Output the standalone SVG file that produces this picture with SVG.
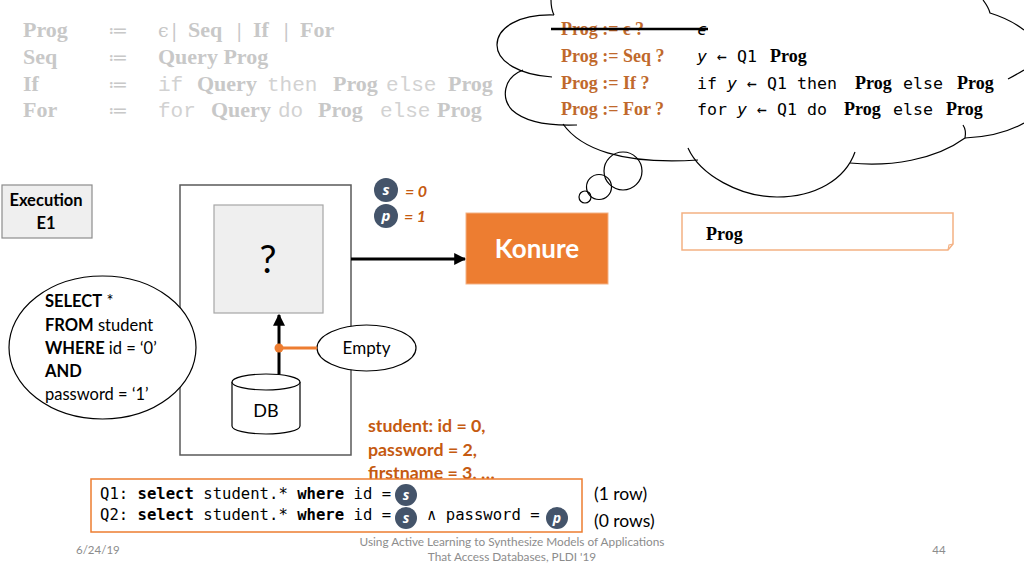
<svg xmlns="http://www.w3.org/2000/svg" width="1024" height="576" viewBox="0 0 1024 576">
<style>
.gram{font-family:"Liberation Serif",serif;font-weight:bold;font-size:22px;fill:#c8c8c8}
.gmono{font-family:"Liberation Mono",monospace;font-size:21px;fill:#d2d2d2}
.gop{font-family:"DejaVu Serif","Liberation Serif",serif;font-size:19px;fill:#c8c8c8}
.ctx{font-family:"Liberation Serif",serif;font-weight:bold;font-size:18px;fill:#c0692c}
.cmono{font-family:"DejaVu Sans Mono",monospace;font-size:16.6px;fill:#000}
.cbold{font-family:"Liberation Serif",serif;font-weight:bold;font-size:18px;fill:#000}
.sans{font-family:Lato,"Open Sans",sans-serif;fill:#000}
.qmono{font-family:"DejaVu Sans Mono",monospace;font-size:15.6px;fill:#000}
.badge{fill:#44546a}
.btx{font-family:"Open Sans",sans-serif;font-weight:bold;font-style:italic;fill:#fff;text-anchor:middle}
.org{font-family:Lato,"Open Sans",sans-serif;font-weight:bold;fill:#c55a11}
.cloud{fill:none;stroke:#000;stroke-width:1.2}
.foot{font-family:Lato,"Open Sans",sans-serif;fill:#8c8c8c}
</style>
<defs>
<marker id="ah" viewBox="0 0 10 10" refX="9" refY="5" markerWidth="4" markerHeight="4" orient="auto" markerUnits="strokeWidth">
<path d="M0,0 L10,5 L0,10 z" fill="#000"/>
</marker>
</defs>
<rect width="1024" height="576" fill="#fff"/>

<g id="grammar">
<text class="gram" x="23" y="37">Prog</text>
<text class="gop" x="108" y="37">≔</text>
<text class="gop" x="158" y="37">ϵ</text>
<text class="gop" x="171" y="37">|</text>
<text class="gram" x="188" y="37">Seq</text>
<text class="gop" x="236" y="37">|</text>
<text class="gram" x="253" y="37">If</text>
<text class="gop" x="283" y="37">|</text>
<text class="gram" x="300" y="37">For</text>

<text class="gram" x="23" y="64">Seq</text>
<text class="gop" x="108" y="64">≔</text>
<text class="gram" x="158" y="64">Query Prog</text>

<text class="gram" x="23" y="91">If</text>
<text class="gop" x="108" y="91">≔</text>
<text class="gmono" x="158" y="91">if</text>
<text class="gram" x="197" y="91">Query</text>
<text class="gmono" x="267" y="91">then</text>
<text class="gram" x="333" y="91">Prog</text>
<text class="gmono" x="386" y="91">else</text>
<text class="gram" x="448" y="91">Prog</text>

<text class="gram" x="23" y="117">For</text>
<text class="gop" x="108" y="117">≔</text>
<text class="gmono" x="158" y="117">for</text>
<text class="gram" x="211" y="117">Query</text>
<text class="gmono" x="278" y="117">do</text>
<text class="gram" x="318" y="117">Prog</text>
<text class="gmono" x="380" y="117">else</text>
<text class="gram" x="437" y="117">Prog</text>
</g>

<g id="cloud">
<path d="M551,0 L983,0 C986,5 989,9 990,13 C1005,16 1018,22 1024,30 L1024,123 C1005,133 985,137 965,138 C945,160 900,167 853,158 C840,185 810,197 777,197 C740,197 705,180 692,160 C660,164 600,160 565,126 C540,125 520,120 512,110 C500,100 505,80 523,70 C505,63 497,55 497,45 C497,25 525,15 554,15 Z" fill="#fff"/>
<path class="cloud" d="M551,0 C551,6 552,11 554,15"/>
<path class="cloud" d="M554,15 C520,14 497,27 497,45 C497,62 520,75 552,77"/>
<path class="cloud" d="M523,70 C503,78 501,98 512,110 C525,122 550,126 577,125"/>
<path class="cloud" d="M563,124 C580,148 620,165 698,160"/>
<path class="cloud" d="M688,148 C700,175 740,197 777,197 C815,197 845,180 855,152"/>
<path class="cloud" d="M850,163 C890,167 935,160 965,138 C966,133 965,128 963,125"/>
<path class="cloud" d="M965,138 C990,137 1010,131 1024,123"/>
<path class="cloud" d="M1008,79 C1014,76 1019,73 1024,70"/>
<path class="cloud" d="M983,0 C986,4 989,9 990,13 C1003,17 1015,23 1024,30"/>
<circle class="cloud" cx="623" cy="171" r="19"/>
<circle class="cloud" cx="599" cy="187" r="12.5"/>
<circle class="cloud" cx="585" cy="197" r="6"/>

<text class="ctx" x="561" y="35">Prog := ϵ ?</text>
<text class="ctx" x="561" y="62">Prog := Seq ?</text>
<text class="ctx" x="561" y="89">Prog := If ?</text>
<text class="ctx" x="561" y="115">Prog := For ?</text>
<line x1="551" y1="29" x2="708" y2="29" stroke="#000" stroke-width="2.5"/>
<text class="cmono" x="697" y="35" font-style="italic">ϵ</text>
<text class="cmono" x="697" y="62"><tspan font-style="italic">y</tspan> ← Q1</text>
<text class="cbold" x="770" y="62">Prog</text>
<text class="cmono" x="697" y="89">if <tspan font-style="italic">y</tspan> ← Q1 then</text>
<text class="cbold" x="855" y="89">Prog</text>
<text class="cmono" x="903" y="89">else</text>
<text class="cbold" x="957" y="89">Prog</text>
<text class="cmono" x="697" y="115">for <tspan font-style="italic">y</tspan> ← Q1 do</text>
<text class="cbold" x="844" y="115">Prog</text>
<text class="cmono" x="893" y="115">else</text>
<text class="cbold" x="946" y="115">Prog</text>
</g>

<g id="execution">
<rect x="2" y="185" width="90" height="53" fill="#efefef" stroke="#8c8c8c" stroke-width="1.2"/>
<text class="sans" x="46" y="206" font-size="16.5" font-weight="bold" text-anchor="middle">Execution</text>
<text class="sans" x="46" y="229" font-size="16.5" font-weight="bold" text-anchor="middle">E1</text>
</g>

<g id="app">
<rect x="180" y="185" width="171" height="270" fill="#fff" stroke="#595959" stroke-width="1.5"/>
</g>
<g id="unknown">
<rect x="214" y="205" width="109" height="108" fill="#efefef" stroke="#a6a6a6" stroke-width="1.2"/>
<text class="sans" x="268" y="273" font-size="38" text-anchor="middle">?</text>
</g>

<g id="db">
<path d="M232,382 L232,426 A34,8 0 0 0 300,426 L300,382" fill="#fff" stroke="#000" stroke-width="1.2"/>
<ellipse cx="266" cy="382" rx="34" ry="8" fill="#fff" stroke="#000" stroke-width="1.2"/>
<text class="sans" x="266" y="417" font-size="18" text-anchor="middle">DB</text>
</g>

<g id="sql">
<ellipse cx="102.5" cy="347.5" rx="93.5" ry="71.5" fill="#fff" stroke="#000" stroke-width="1.2"/>
<text class="sans" font-size="16.5" x="45" y="307"><tspan font-weight="bold">SELECT</tspan> *</text>
<text class="sans" font-size="16.5" x="45" y="331"><tspan font-weight="bold">FROM</tspan> student</text>
<text class="sans" font-size="16.5" x="45" y="354"><tspan font-weight="bold">WHERE</tspan> id = ‘0’</text>
<text class="sans" font-size="16.5" x="45" y="377" font-weight="bold">AND</text>
<text class="sans" font-size="16.5" x="45" y="400">password = ‘1’</text>
</g>

<g id="empty">
<ellipse cx="366.5" cy="348" rx="49.5" ry="23" fill="#fff" stroke="#000" stroke-width="1.2"/>
<text class="sans" x="366.5" y="354" font-size="17" text-anchor="middle">Empty</text>
</g>

<g id="konure">
<rect x="466" y="213" width="142" height="71" fill="#ed7d31" stroke="#f4b183" stroke-width="1"/>
<text class="sans" x="537" y="258" font-size="26" font-weight="bold" text-anchor="middle" style="fill:#fff">Konure</text>
</g>

<g id="params">
<circle class="badge" cx="386" cy="190" r="12"/>
<text class="btx" x="386" y="195" font-size="15">s</text>
<text class="org" x="405" y="197" font-size="16" font-style="italic">= 0</text>
<circle class="badge" cx="386" cy="216" r="12"/>
<text class="btx" x="386" y="221" font-size="15">p</text>
<text class="org" x="404" y="222" font-size="16" font-style="italic">= 1</text>
</g>

<g id="progbox">
<path d="M682,213 L953,213 L953,244 L948,250 L682,250 Z" fill="#fff" stroke="#f4b183" stroke-width="1.5"/>
<path d="M948,250 L949,245 L953,244" fill="none" stroke="#f4b183" stroke-width="1.2"/>
<text class="cbold" x="706" y="240">Prog</text>
</g>

<g id="rows">
<text class="org" x="368" y="432" font-size="17.8">student: id = 0,</text>
<text class="org" x="368" y="456" font-size="17.8">password = 2,</text>
<text class="org" x="368" y="479" font-size="17.8">firstname = 3, …</text>
</g>

<g id="queries">
<rect x="91" y="479" width="491" height="53" fill="#fff" stroke="#ed7d31" stroke-width="1.5"/>
<text class="qmono" x="100" y="499">Q1: <tspan font-weight="bold">select</tspan> student.* <tspan font-weight="bold">where</tspan> id =</text>
<text class="qmono" x="100" y="520">Q2: <tspan font-weight="bold">select</tspan> student.* <tspan font-weight="bold">where</tspan> id =</text>
<text class="qmono" x="427" y="520">∧ password =</text>
<circle class="badge" cx="406" cy="495" r="11"/>
<text class="btx" x="406" y="500" font-size="14">s</text>
<circle class="badge" cx="406" cy="518" r="11"/>
<text class="btx" x="406" y="523" font-size="14">s</text>
<circle class="badge" cx="557" cy="518" r="11"/>
<text class="btx" x="557" y="523" font-size="14">p</text>
<text class="sans" x="594" y="500" font-size="17.5">(1 row)</text>
<text class="sans" x="594" y="527" font-size="17.5">(0 rows)</text>
</g>

<g id="connectors">
<line x1="351" y1="259" x2="465" y2="259" stroke="#000" stroke-width="3" marker-end="url(#ah)"/>
<line x1="279" y1="374" x2="279" y2="315" stroke="#000" stroke-width="3" marker-end="url(#ah)"/>
<line x1="279" y1="348" x2="317" y2="348" stroke="#ed7d31" stroke-width="3"/>
<circle cx="279" cy="348" r="4.5" fill="#ed7d31"/>
</g>

<g id="footer">
<text class="foot" x="76" y="554" font-size="11.5">6/24/19</text>
<text class="foot" x="512" y="546" font-size="11.8" text-anchor="middle">Using Active Learning to Synthesize Models of Applications</text>
<text class="foot" x="512" y="561" font-size="11.8" text-anchor="middle">That Access Databases, PLDI '19</text>
<text class="foot" x="939" y="554" font-size="11.5" text-anchor="middle">44</text>
</g>
</svg>
